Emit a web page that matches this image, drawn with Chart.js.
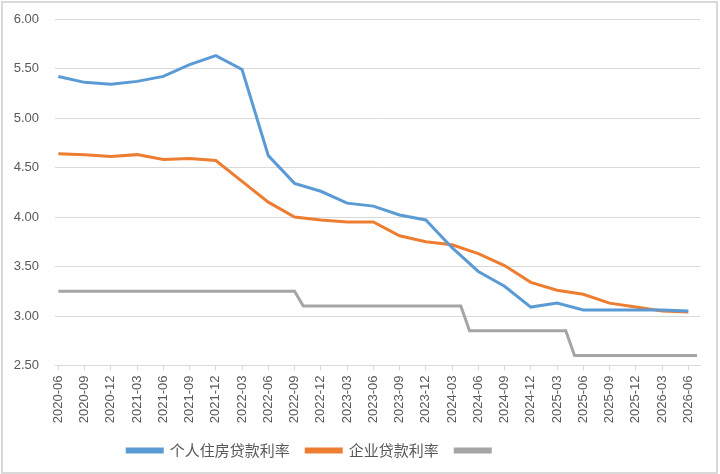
<!DOCTYPE html>
<html>
<head>
<meta charset="utf-8">
<script src="https://cdn.jsdelivr.net/npm/chart.js@4.4.1/dist/chart.umd.min.js"></script>
<style>
  html, body { margin: 0; padding: 0; background: #ffffff; }
  #wrap { position: relative; width: 720px; height: 474px; }
  #frame { position: absolute; left: 1px; top: 1px; width: 713px; height: 469px; border: 2px solid #d9d9d9; pointer-events: none; }
  canvas { position: absolute; left: 0; top: 0; }
</style>
</head>
<body>
<div id="wrap">
  <canvas id="c" width="720" height="474"></canvas>
  <div id="frame"></div>
</div>
<script>
// ---- data ----
const quarterLabels = ['2020-06','2020-09','2020-12','2021-03','2021-06','2021-09','2021-12',
  '2022-03','2022-06','2022-09','2022-12','2023-03','2023-06','2023-09','2023-12',
  '2024-03','2024-06','2024-09','2024-12','2025-03','2025-06','2025-09','2025-12',
  '2026-03','2026-06'];
const housingRate = [5.42,5.36,5.34,5.37,5.42,5.54,5.63,5.49,4.62,4.34,4.26,4.14,4.11,4.02,3.97,
  3.69,3.45,3.30,3.09,3.13,3.06,3.06,3.06,3.06,3.05];
const corporateRate = [4.64,4.63,4.61,4.63,4.58,4.59,4.57,4.36,4.15,4.00,3.97,3.95,3.95,3.81,3.75,
  3.72,3.63,3.51,3.34,3.26,3.22,3.13,3.09,3.05,3.04];
const fundMonths = ['2020-06','2022-09','2022-10','2024-04','2024-05','2025-04','2025-05','2026-07'];
const fundRate = [3.25,3.25,3.10,3.10,2.85,2.85,2.60,2.60];
const seriesNames = ['个人住房贷款利率','企业贷款利率','\u2003\u2003\u2003\u2003\u2003'];

// month index relative to 2020-06
function monthIndex(s) {
  const [y, m] = s.split('-').map(Number);
  return (y - 2020) * 12 + (m - 6);
}
const toPoints = (labels, vals) => labels.map((l, i) => ({ x: monthIndex(l), y: vals[i] }));

const tickColor = '#595959';
const gridColor = '#d9d9d9';

new Chart(document.getElementById('c'), {
  type: 'line',
  data: {
    datasets: [
      { label: seriesNames[0], data: toPoints(quarterLabels, housingRate),
        borderColor: '#5B9BD5', backgroundColor: '#5B9BD5', borderWidth: 3, pointRadius: 0, tension: 0 },
      { label: seriesNames[1], data: toPoints(quarterLabels, corporateRate),
        borderColor: '#ED7D31', backgroundColor: '#ED7D31', borderWidth: 3, pointRadius: 0, tension: 0 },
      { label: seriesNames[2], data: toPoints(fundMonths, fundRate),
        borderColor: '#A5A5A5', backgroundColor: '#A5A5A5', borderWidth: 3, pointRadius: 0, tension: 0 }
    ]
  },
  options: {
    responsive: false,
    animation: false,
    devicePixelRatio: 1,
    layout: { padding: { top: 19, right: 20, left: 0, bottom: 6 } },
    plugins: {
      tooltip: { enabled: false },
      legend: {
        position: 'bottom',
        labels: {
          boxWidth: 35, boxHeight: 3, padding: 16.5,
          color: tickColor,
          font: { family: '"Noto Sans CJK SC", sans-serif', size: 15 }
        }
      }
    },
    scales: {
      x: {
        type: 'linear',
        min: -0.38, max: 73.34,
        afterBuildTicks: (scale) => {
          scale.ticks = quarterLabels.map(l => ({ value: monthIndex(l) }));
        },
        afterFit: (scale) => { scale.height = 61; },
        ticks: {
          autoSkip: false, minRotation: 90, maxRotation: 90, padding: 5,
          color: tickColor,
          font: { family: '"Liberation Sans", sans-serif', size: 13 },
          callback: (v, i) => quarterLabels[i]
        },
        grid: { drawOnChartArea: false, color: gridColor, tickLength: 5 },
        border: { display: true, color: gridColor }
      },
      y: {
        min: 2.5, max: 6,
        afterFit: (scale) => { scale.width = 55; scale.paddingTop = 0; scale.paddingBottom = 0; },
        ticks: {
          stepSize: 0.5, padding: 16,
          color: tickColor,
          font: { family: '"Liberation Sans", sans-serif', size: 13 },
          callback: (v) => Number(v).toFixed(2)
        },
        grid: { color: gridColor, drawTicks: false },
        border: { display: false }
      }
    }
  }
});
</script>
</body>
</html>
